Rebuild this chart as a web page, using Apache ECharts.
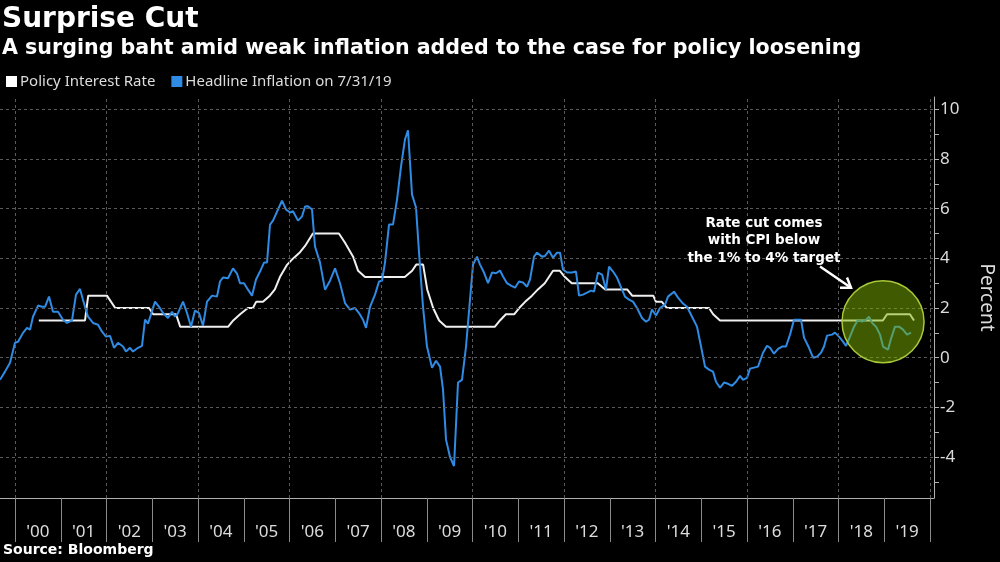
<!DOCTYPE html>
<html>
<head>
<meta charset="utf-8">
<script src="https://cdn.jsdelivr.net/npm/echarts@6/dist/echarts.min.js"></script>
<style>
html,body{margin:0;padding:0;background:#000;}
#chart{width:1000px;height:562px;}
</style>
</head>
<body>
<div id="chart"></div>
<script>
// ---- Data (decimal years, percent) ----
const policyX = [2000.52,2001.53,2001.60,2002.01,2002.19,2002.93,2003.02,2003.52,2003.61,2004.66,2004.77,2004.92,2005.09,2005.20,2005.27,2005.42,2005.57,2005.68,2005.79,2005.95,2006.08,2006.23,2006.34,2006.51,2007.08,2007.21,2007.39,2007.50,2007.65,2008.52,2008.68,2008.77,2008.92,2009.01,2009.14,2009.27,2009.42,2010.49,2010.60,2010.73,2010.91,2011.02,2011.15,2011.30,2011.43,2011.58,2011.76,2011.91,2012.02,2012.17,2012.74,2012.90,2013.38,2013.49,2013.95,2014.01,2014.14,2014.25,2015.17,2015.26,2015.41,2018.97,2019.06,2019.56,2019.65];
const policyY = [1.5,1.5,2.5,2.5,2.0,2.0,1.75,1.75,1.25,1.25,1.5,1.75,2.0,2.0,2.25,2.25,2.5,2.75,3.25,3.75,4.0,4.25,4.5,5.0,5.0,4.64,4.07,3.5,3.25,3.25,3.5,3.75,3.75,2.75,2.0,1.5,1.25,1.25,1.5,1.75,1.75,2.0,2.25,2.5,2.75,3.0,3.5,3.5,3.25,3.0,3.0,2.75,2.75,2.5,2.5,2.25,2.25,2.0,2.0,1.75,1.5,1.5,1.75,1.75,1.5];

const inflX = [1999.672,1999.781,1999.891,2000.000,2000.066,2000.175,2000.262,2000.328,2000.393,2000.503,2000.590,2000.656,2000.743,2000.831,2000.940,2001.049,2001.137,2001.246,2001.333,2001.421,2001.486,2001.596,2001.705,2001.814,2001.902,2001.989,2002.077,2002.164,2002.251,2002.361,2002.426,2002.514,2002.579,2002.689,2002.776,2002.842,2002.907,2003.060,2003.148,2003.235,2003.344,2003.432,2003.497,2003.563,2003.672,2003.760,2003.847,2003.934,2004.022,2004.109,2004.197,2004.306,2004.415,2004.481,2004.546,2004.656,2004.765,2004.852,2004.918,2005.005,2005.093,2005.180,2005.268,2005.355,2005.443,2005.508,2005.574,2005.639,2005.749,2005.836,2005.923,2006.011,2006.077,2006.186,2006.273,2006.339,2006.404,2006.492,2006.557,2006.667,2006.776,2006.885,2006.995,2007.104,2007.213,2007.322,2007.432,2007.519,2007.607,2007.672,2007.760,2007.869,2007.956,2008.022,2008.087,2008.175,2008.262,2008.350,2008.437,2008.525,2008.590,2008.678,2008.765,2008.831,2008.918,2009.005,2009.115,2009.202,2009.290,2009.355,2009.421,2009.508,2009.596,2009.683,2009.770,2009.858,2009.945,2010.011,2010.098,2010.164,2010.251,2010.339,2010.426,2010.514,2010.601,2010.667,2010.754,2010.842,2010.929,2011.016,2011.104,2011.191,2011.257,2011.344,2011.410,2011.519,2011.585,2011.672,2011.760,2011.847,2011.913,2011.978,2012.066,2012.175,2012.262,2012.328,2012.415,2012.503,2012.590,2012.656,2012.743,2012.831,2012.918,2012.984,2013.071,2013.158,2013.268,2013.333,2013.421,2013.508,2013.596,2013.705,2013.792,2013.858,2013.923,2014.011,2014.098,2014.208,2014.273,2014.404,2014.492,2014.601,2014.689,2014.798,2014.907,2014.995,2015.082,2015.169,2015.257,2015.322,2015.410,2015.497,2015.585,2015.672,2015.760,2015.847,2015.913,2016.000,2016.066,2016.153,2016.240,2016.350,2016.437,2016.503,2016.590,2016.678,2016.765,2016.852,2016.940,2017.027,2017.093,2017.180,2017.246,2017.355,2017.443,2017.530,2017.617,2017.683,2017.749,2017.858,2017.923,2018.011,2018.098,2018.164,2018.251,2018.339,2018.426,2018.514,2018.601,2018.667,2018.732,2018.820,2018.907,2018.973,2019.082,2019.148,2019.235,2019.322,2019.410,2019.497,2019.585];
const inflY = [-0.89,-0.56,-0.2,0.6,0.64,1.0,1.2,1.13,1.65,2.1,2.05,2.05,2.46,1.85,1.85,1.53,1.4,1.5,2.54,2.77,2.33,1.65,1.4,1.33,1.05,0.85,0.88,0.4,0.6,0.45,0.25,0.4,0.25,0.4,0.48,1.53,1.37,2.26,2.05,1.8,1.6,1.85,1.65,1.8,2.26,1.8,1.25,1.9,1.8,1.29,2.26,2.5,2.46,3.07,3.23,3.2,3.6,3.39,3.0,3.0,2.74,2.5,3.15,3.47,3.83,3.83,5.36,5.52,5.97,6.33,5.97,5.85,5.9,5.52,5.69,6.09,6.1,5.97,4.48,3.83,2.74,3.1,3.6,3.0,2.2,1.94,2.0,1.8,1.53,1.2,2.05,2.54,3.07,3.1,3.83,5.36,5.36,6.37,7.7,8.8,9.16,6.57,6.05,4.23,2.05,0.45,-0.4,-0.12,-0.36,-1.28,-3.3,-4.0,-4.36,-1.0,-0.89,0.45,2.34,3.75,4.07,3.75,3.43,3.0,3.43,3.4,3.51,3.27,3.0,2.9,2.82,3.07,3.03,2.86,3.15,4.07,4.23,4.07,4.1,4.31,4.03,4.23,4.23,3.55,3.43,3.43,3.47,2.5,2.54,2.62,2.7,2.66,3.43,3.35,2.74,3.67,3.47,3.23,2.74,2.46,2.34,2.26,2.0,1.6,1.45,1.53,1.94,1.7,2.0,2.14,2.46,2.66,2.42,2.18,2.05,1.65,1.25,0.45,-0.36,-0.48,-0.56,-0.97,-1.21,-1.0,-1.05,-1.13,-0.97,-0.73,-0.89,-0.81,-0.44,-0.4,-0.36,0.2,0.48,0.4,0.16,0.36,0.45,0.45,0.93,1.53,1.53,1.53,0.81,0.4,0.0,0.04,0.2,0.45,0.89,0.93,1.01,0.85,0.65,0.48,0.85,1.25,1.53,1.45,1.53,1.65,1.41,1.25,0.93,0.45,0.32,0.77,1.25,1.25,1.13,0.93,1.01];

// ---- Axes / ticks ----
const xMin = 1999.672, xMax = 2020.087;
const yMin = -5.65, yMax = 10.5;
const yearTicks = [2000,2001,2002,2003,2004,2005,2006,2007,2008,2009,2010,2011,2012,2013,2014,2015,2016,2017,2018,2019,2020];
const yearLabels = ["'00","'01","'02","'03","'04","'05","'06","'07","'08","'09","'10","'11","'12","'13","'14","'15","'16","'17","'18","'19"];
const xGridYears = [2000,2002,2004,2006,2008,2010,2012,2014,2016,2018,2020];
const yLabelValues = [-4,-2,0,2,4,6,8,10];
const yTickValues = [-5,-4,-3,-2,-1,0,1,2,3,4,5,6,7,8,9,10];

// ---- Annotation anchors (data coords) ----
const circleCenter = [2018.973, 1.45];
const noteAnchor = [2016.37, 4.72];
const arrowFrom = [2017.596, 3.67];
const arrowTo = [2018.273, 2.82];
const noteLines = ['Rate cut comes', 'with CPI below', 'the 1% to 4% target'];

const labelYearsMid = yearTicks.slice(0, yearLabels.length).map(y => y + 0.5);
const zip = (a, b) => a.map((v, i) => [v, b[i]]);

const chart = echarts.init(document.getElementById('chart'), null, {renderer: 'canvas'});
const txt = '#dcdcdc';
const option = {
  backgroundColor: '#000',
  animation: false,
  title: [
    {text: 'Surprise Cut', left: 2, top: 6, padding: 0,
     textStyle: {fontFamily: 'DejaVu Sans', fontWeight: 'bold', fontSize: 28, color: '#fff'}},
    {text: 'A surging baht amid weak inflation added to the case for policy loosening', left: 2, top: 38, padding: 0,
     textStyle: {fontFamily: 'DejaVu Sans', fontWeight: 'bold', fontSize: 20.6, color: '#fff'}},
    {text: 'Source: Bloomberg', left: 3, top: 543, padding: 0,
     textStyle: {fontFamily: 'DejaVu Sans', fontWeight: 'bold', fontSize: 14, color: '#fff'}}
  ],
  legend: {
    left: 6, top: 74, padding: 0, itemWidth: 11, itemHeight: 11, itemGap: 16, icon: 'rect',
    data: ['Policy Interest Rate', 'Headline Inflation on 7/31/19'],
    textStyle: {color: txt, fontSize: 15, fontFamily: 'Noto Sans', padding: [0, 0, 0, -2]},
    selectedMode: false
  },
  grid: {left: 0, right: 66, top: 97, bottom: 64, containLabel: false, outerBoundsMode: 'none'},
  xAxis: {
    type: 'value', min: xMin, max: xMax,
    axisLine: {show: true, onZero: false, lineStyle: {color: '#b0b0b0', width: 1}},
    axisTick: {show: true, customValues: yearTicks, length: 44, inside: false, lineStyle: {color: '#8a8a8a', width: 1}},
    axisLabel: {customValues: labelYearsMid, color: txt, fontSize: 17, fontFamily: 'Noto Sans', margin: 26,
      formatter: v => yearLabels[Math.floor(v) - 2000] || ''},
    splitLine: {show: false}
  },
  yAxis: {
    type: 'value', position: 'right', min: yMin, max: yMax,
    axisLine: {show: true, onZero: false, lineStyle: {color: '#b0b0b0', width: 1}},
    axisTick: {show: true, customValues: yTickValues, length: 5, inside: false, lineStyle: {color: '#b0b0b0'}},
    axisLabel: {customValues: yLabelValues, color: txt, fontSize: 17, fontFamily: 'Noto Sans', margin: 6},
    splitLine: {show: false},
    name: 'Percent', nameLocation: 'middle', nameRotate: -90, nameGap: 43,
    nameTextStyle: {color: txt, fontSize: 19, fontFamily: 'Noto Sans'}
  },
  series: [
    {type: 'line', name: 'grid', data: [], silent: true, z: 1, showSymbol: false,
     markLine: {silent: true, symbol: 'none', animation: false, label: {show: false},
       lineStyle: {color: '#5a5a5a', type: [3, 3], width: 1},
       emphasis: {disabled: true},
       data: yLabelValues.map(v => ({yAxis: v})).concat(xGridYears.map(v => ({xAxis: v})))}},
    {type: 'line', name: 'Policy Interest Rate', data: zip(policyX, policyY), showSymbol: false, z: 3,
     lineStyle: {color: '#f0f0f0', width: 2}, itemStyle: {color: '#ffffff'}, emphasis: {disabled: true}},
    {type: 'line', name: 'Headline Inflation on 7/31/19', data: zip(inflX, inflY), showSymbol: false, z: 3,
     lineStyle: {color: '#2f8be3', width: 2}, itemStyle: {color: '#2f8be3'}, emphasis: {disabled: true}},
    {type: 'scatter', name: 'circle', data: [circleCenter], symbolSize: 82, z: 5, silent: true,
     itemStyle: {color: 'rgba(125,180,0,0.5)', borderColor: '#a9c83a', borderWidth: 1.5, opacity: 1},
     emphasis: {disabled: true}}
  ]
};
chart.setOption(option);

// annotation
const p = c => chart.convertToPixel({xAxisIndex: 0, yAxisIndex: 0}, c);
const np = p(noteAnchor), a0 = p(arrowFrom), a1 = p(arrowTo);
const dx = a1[0] - a0[0], dy = a1[1] - a0[1], L = Math.hypot(dx, dy);
const ux = dx / L, uy = dy / L, hl = 11, ang = 0.6;
const h1 = [a1[0] - hl * (ux * Math.cos(ang) - uy * Math.sin(ang)), a1[1] - hl * (uy * Math.cos(ang) + ux * Math.sin(ang))];
const h2 = [a1[0] - hl * (ux * Math.cos(ang) + uy * Math.sin(ang)), a1[1] - hl * (uy * Math.cos(ang) - ux * Math.sin(ang))];
chart.setOption({
  graphic: [
    {type: 'text', x: np[0], y: np[1], z: 10,
     style: {text: noteLines.join('\n'), fill: '#fff', font: 'bold 13.5px "DejaVu Sans"', align: 'center', verticalAlign: 'middle', lineHeight: 17.5}},
    {type: 'polyline', z: 10, shape: {points: [a0, a1]}, style: {stroke: '#fff', lineWidth: 2.5}},
    {type: 'polyline', z: 10, shape: {points: [h1, a1, h2]}, style: {stroke: '#fff', lineWidth: 2.5, fill: null}}
  ]
});
</script>
</body>
</html>
